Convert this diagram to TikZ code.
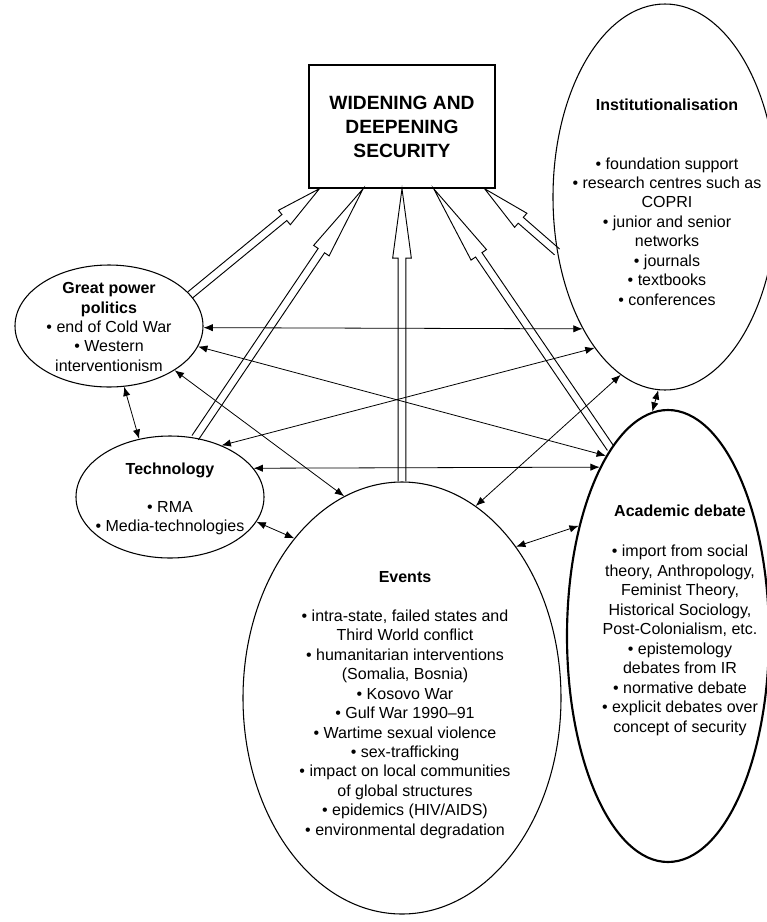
\documentclass[tikz,border=0pt]{standalone}
\usepackage{fontspec}
\setmainfont{Liberation Sans}
\usetikzlibrary{shapes.geometric,arrows.meta,calc}

\tikzset{
  bubble/.style={ellipse, draw, line width=0.8pt, inner sep=0pt},
  txt/.style={align=center, inner sep=0pt, font=\fontsize{12}{14.6}\selectfont},
  link/.style={{Latex[length=7pt,width=5.5pt]}-{Latex[length=7pt,width=5.5pt]}, line width=0.6pt},
  hollow/.style={line width=0.7pt}
}

% open block arrow: [head length]{from}{to}
\newcommand{\hollowarrow}[3][54pt]{%
  \coordinate (ha-s) at (#2);
  \coordinate (ha-e) at (#3);
  \coordinate (ha-b) at ($(ha-e)!#1!(ha-s)$);
  \draw[hollow] ($(ha-s)!2.9pt!90:(ha-e)$) -- ($(ha-b)!2.9pt!-90:(ha-s)$)
    -- ($(ha-b)!7pt!-90:(ha-s)$) -- (ha-e) -- ($(ha-b)!7pt!90:(ha-s)$)
    -- ($(ha-b)!2.9pt!90:(ha-s)$) -- ($(ha-s)!2.9pt!-90:(ha-e)$);
}

\begin{document}
\begin{tikzpicture}[x=0.75pt,y=-0.75pt]
\useasboundingbox (0,0) rectangle (767,922);

\node[draw, line width=1.1pt, minimum width=139.5pt, minimum height=92.25pt, inner sep=0pt,
  align=center, font=\fontsize{14.4}{18}\selectfont\bfseries] (wds) at (402,126.5)
  {WIDENING AND\\DEEPENING\\SECURITY};

\node[bubble, minimum width=141pt, minimum height=91.5pt] (gpp) at (109,326) {};
\node[txt] (gpp-t) at (109,327) {\textbf{Great power}\\\textbf{politics}\\• end of Cold War\\• Western\\interventionism};

\node[bubble, minimum width=141pt, minimum height=91.5pt] (tech) at (170,497) {};
\node[txt] (tech-t) at (170,499) {\textbf{Technology}\\[14pt]• RMA\\• Media-technologies};

\node[bubble, minimum width=168pt, minimum height=289.5pt] (inst) at (665,197) {};
\node[txt] (inst-t) at (667,202) {\textbf{Institutionalisation}\\[29.6pt]• foundation support\\• research centres such as\\COPRI\\• junior and senior\\networks\\• journals\\• textbooks\\• conferences};

\node[bubble, minimum width=238.5pt, minimum height=324pt] (ev) at (402,698) {};
\node[txt] (ev-t) at (405,705) {\textbf{Events}\\[14.6pt]• intra-state, failed states and\\Third World conflict\\• humanitarian interventions\\(Somalia, Bosnia)\\• Kosovo War\\• Gulf War 1990–91\\• Wartime sexual violence\\• sex-trafficking\\• impact on local communities\\of global structures\\• epidemics (HIV/AIDS)\\• environmental degradation};

\node[bubble, line width=1.6pt, minimum width=151.5pt, minimum height=339pt] (acad) at (668,636) {};
\node[txt] (acad-t) at (680,620) {\textbf{Academic debate}\\[16pt]• import from social\\theory, Anthropology,\\Feminist Theory,\\Historical Sociology,\\Post-Colonialism, etc.\\• epistemology\\debates from IR\\• normative debate\\• explicit debates over\\concept of security};

% links between the factors
\draw[link] (gpp.-1) -- (inst.-122);
\draw[link] (gpp.-13) -- (acad.109);
\draw[link] (gpp.-34) -- (ev.106);
\draw[link] (gpp.-76) -- (tech.118);
\draw[link] (tech.45) -- (inst.-115);
\draw[link] (tech.19) -- (acad.112);
\draw[link] (tech.-16) -- (ev.124);
\draw[link] (ev.69) -- (inst.-104);
\draw[link] (ev.53) -- (acad.129);
\draw[link] (inst.-92) -- (acad.94);

% arrows into the box
\hollowarrow[34pt]{gpp.21}{wds.-143}
\hollowarrow[56pt]{tech.67}{wds.-122}
\hollowarrow[52pt]{ev.north}{wds.south}
\hollowarrow[60pt]{acad.107}{wds.-63}
\hollowarrow[36pt]{inst.-153}{wds.-37}
\end{tikzpicture}
\end{document}
